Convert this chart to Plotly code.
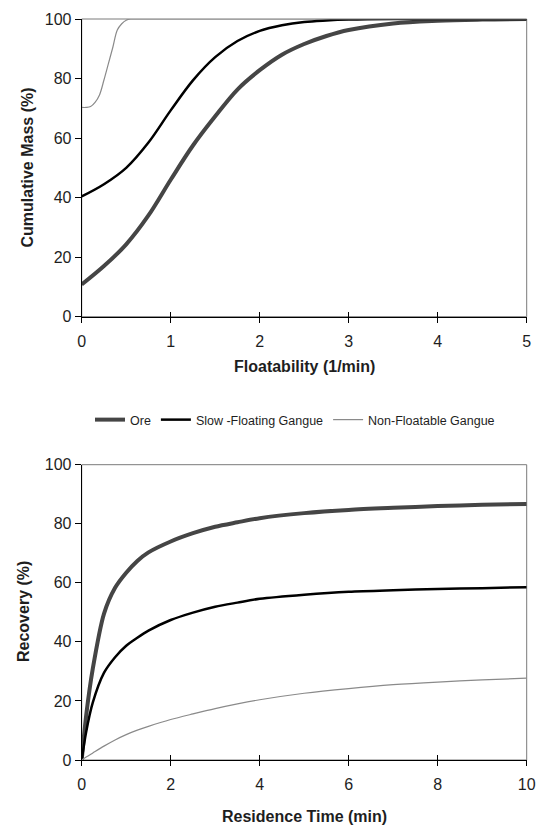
import plotly.graph_objects as go

W, H = 537, 827

# ---- Top chart: cumulative mass vs floatability ----
floatability = [0, 0.25, 0.5, 0.75, 1.0, 1.25, 1.5, 1.75, 2.0, 2.25, 2.5, 2.75, 3.0, 3.5, 4.0, 4.5, 5.0]
ore_mass = [10.8, 17, 24.3, 34, 46, 57.5, 67.3, 76.3, 82.8, 88, 91.6, 94.3, 96.3, 98.5, 99.4, 99.8, 100]
slow_mass = [40.4, 44.5, 50, 58.5, 69.3, 79.4, 87.2, 92.6, 96, 97.9, 99, 99.5, 99.8, 100, 100, 100, 100]
floatability_nf = [0, 0.05, 0.1, 0.15, 0.2, 0.25, 0.3, 0.35, 0.4, 0.45, 0.5, 0.55, 0.6, 1, 2, 3, 4, 5]
nonfloat_mass = [70.3, 70.3, 70.6, 72, 74.5, 79.5, 85, 90.5, 96.3, 98.4, 99.6, 100, 100, 100, 100, 100, 100, 100]

# ---- Bottom chart: recovery vs residence time ----
time_min = [0, 0.1, 0.25, 0.5, 0.75, 1, 1.25, 1.5, 2, 2.5, 3, 3.5, 4, 5, 6, 7, 8, 9, 10]
ore_rec = [0, 15, 31, 49.5, 58.3, 63.4, 67.4, 70.3, 74, 76.8, 79, 80.5, 81.9, 83.6, 84.7, 85.4, 86, 86.4, 86.7]
slow_rec = [0, 9.5, 19.5, 29.5, 34.8, 38.7, 41.4, 43.8, 47.4, 49.9, 51.9, 53.3, 54.6, 56, 57, 57.5, 57.9, 58.2, 58.5]
nonfloat_rec = [0, 1, 2.4, 4.7, 6.8, 8.6, 10.1, 11.4, 13.7, 15.6, 17.4, 19, 20.4, 22.6, 24.2, 25.5, 26.4, 27.1, 27.7]

series_names = ["Ore", "Slow -Floating Gangue", "Non-Floatable Gangue"]
colors = ["#454545", "#000000", "#8a8a8a"]
widths = [4, 2.5, 1.2]

FONT = "Liberation Sans, Arial, sans-serif"
TXT = "#1e1e1e"

fig = go.Figure()

top = [(floatability, ore_mass), (floatability, slow_mass), (floatability_nf, nonfloat_mass)]
for (x, y), name, c, w in zip(top, series_names, colors, widths):
    fig.add_trace(go.Scatter(x=x, y=y, mode="lines", name=name,
                             line=dict(color=c, width=w, shape="spline", smoothing=1.0),
                             xaxis="x", yaxis="y", hoverinfo="skip"))

bottom = [ore_rec, slow_rec, nonfloat_rec]
for y, name, c, w in zip(bottom, series_names, colors, widths):
    fig.add_trace(go.Scatter(x=time_min, y=y, mode="lines", name=name, showlegend=False,
                             line=dict(color=c, width=w, shape="spline", smoothing=0.8),
                             xaxis="x2", yaxis="y2", hoverinfo="skip"))

# invisible traces to activate the overlay (inside tick) axes
fig.add_trace(go.Scatter(x=[None], y=[None], xaxis="x3", yaxis="y", showlegend=False, hoverinfo="skip"))
fig.add_trace(go.Scatter(x=[None], y=[None], xaxis="x4", yaxis="y2", showlegend=False, hoverinfo="skip"))

def px_x(p):
    return p / W

def px_y(p):
    return 1 - p / H

x_dom = [px_x(81.7), px_x(526.7)]
top_dom = [px_y(316.7), px_y(19.0)]
bot_dom = [px_y(760.0), px_y(464.7)]

tickfont = dict(family=FONT, size=16, color=TXT)

def xaxis(rng, dtick, anchor):
    return dict(domain=x_dom, range=rng, dtick=dtick, anchor=anchor, showgrid=False, zeroline=False,
                showline=True, linecolor="black", linewidth=1, ticks="outside", ticklen=5,
                tickcolor="black", tickwidth=1, tickfont=tickfont, ticklabelstandoff=5,
                automargin=False, fixedrange=True)

def yaxis(dom, anchor):
    return dict(domain=dom, range=[0, 100], dtick=20, anchor=anchor, showgrid=False, zeroline=False,
                showline=True, linecolor="black", linewidth=1, ticks="outside", ticklen=6,
                tickcolor="black", tickwidth=1, tickfont=tickfont, automargin=False, fixedrange=True)

def overlay_x(rng, dtick, over, anchor):
    return dict(range=rng, dtick=dtick, overlaying=over, anchor=anchor, showgrid=False, zeroline=False,
                showline=False, ticks="inside", ticklen=5, tickcolor="black", tickwidth=1,
                showticklabels=False, automargin=False, fixedrange=True)

fig.update_layout(
    template="none",
    width=W, height=H, autosize=False,
    margin=dict(l=0, r=0, t=0, b=0, pad=0, autoexpand=False),
    paper_bgcolor="white", plot_bgcolor="white",
    font=dict(family=FONT, color=TXT),
    xaxis=xaxis([0, 5], 1, "y"),
    yaxis=yaxis(top_dom, "x"),
    xaxis2=xaxis([0, 10], 2, "y2"),
    yaxis2=yaxis(bot_dom, "x2"),
    xaxis3=overlay_x([0, 5], 1, "x", "y"),
    xaxis4=overlay_x([0, 10], 2, "x2", "y2"),
    legend=dict(orientation="h", x=px_x(295), xanchor="center", y=px_y(420), yanchor="middle",
                font=dict(family=FONT, size=12.5, color=TXT), itemwidth=30, tracegroupgap=0,
                bgcolor="rgba(0,0,0,0)"),
    showlegend=True,
)

# gray plot-area frames (top/right borders), drawn below the black axis lines
for xr, yr in (("x domain", "y domain"), ("x2 domain", "y2 domain")):
    fig.add_shape(type="rect", xref=xr, yref=yr, x0=0, x1=1, y0=0, y1=1,
                  line=dict(color="#7a7a7a", width=1), layer="below")

title_font = dict(family=FONT, size=16, color=TXT)
annos = [
    dict(text="<b>Cumulative Mass (%)</b>", x=px_x(27), y=px_y(167.5), textangle=-90),
    dict(text="<b>Floatability (1/min)</b>", x=px_x(304), y=px_y(367)),
    dict(text="<b>Recovery (%)</b>", x=px_x(23), y=px_y(612), textangle=-90),
    dict(text="<b>Residence Time (min)</b>", x=px_x(304), y=px_y(816)),
]
for a in annos:
    fig.add_annotation(xref="paper", yref="paper", showarrow=False, xanchor="center", yanchor="middle",
                       font=title_font, **a)

fig.write_html("out.html", config={"responsive": False, "displayModeBar": False},
               post_script="document.body.style.margin='0';document.body.style.overflow='hidden';")
